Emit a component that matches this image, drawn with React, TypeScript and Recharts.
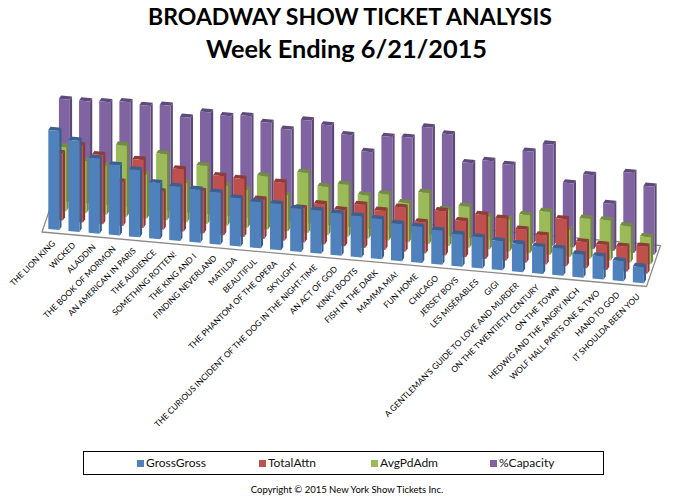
import React from 'react';
import { BarChart, Bar, XAxis, YAxis, Legend, Customized } from 'recharts';

const shows = [
  'THE LION KING', 'WICKED', 'ALADDIN', 'THE BOOK OF MORMON', 'AN AMERICAN IN PARIS', 'THE AUDIENCE',
  'SOMETHING ROTTEN!', 'THE KING AND I', 'FINDING NEVERLAND', 'MATILDA', 'BEAUTIFUL', 'THE PHANTOM OF THE OPERA',
  'SKYLIGHT', 'THE CURIOUS INCIDENT OF THE DOG IN THE NIGHT-TIME', 'AN ACT OF GOD', 'KINKY BOOTS', 'FISH IN THE DARK',
  'MAMMA MIA!', 'FUN HOME', 'CHICAGO', 'JERSEY BOYS', 'LES MISÉRABLES', 'GIGI',
  "A GENTLEMAN'S GUIDE TO LOVE AND MURDER", 'ON THE TWENTIETH CENTURY', 'ON THE TOWN', 'HEDWIG AND THE ANGRY INCH',
  'WOLF HALL PARTS ONE & TWO', 'HAND TO GOD', 'IT SHOULDA BEEN YOU',
];

// index scores
const grossGross = [99, 91, 75, 70, 67, 56, 54, 53, 52, 48, 46, 46, 43, 43, 42, 41, 40, 37, 36, 34, 32, 31, 29, 28, 27, 27, 23, 23, 20, 16];
const totalAttn = [67, 77, 69, 44, 68, 38, 62, 42, 59, 58, 39, 58, 34, 40, 36, 43, 39, 44, 31, 44, 36, 44, 42, 33, 29, 47, 26, 25, 25, 27];
const avgPdAdm = [64, 52, 49, 71, 44, 66, 39, 58, 40, 38, 53, 36, 60, 48, 52, 43, 46, 39, 51, 36, 41, 33, 32, 38, 43, 27, 40, 40, 36, 27];
const capacity = [102, 102, 103, 105, 103, 105, 95, 102, 100, 102, 97, 92, 103, 100, 92, 77, 94, 95, 107, 102, 75, 79, 77, 92, 101, 64, 74, 47, 80, 68];

const chartData = shows.map((name, i) => ({
  name,
  GrossGross: grossGross[i],
  TotalAttn: totalAttn[i],
  AvgPdAdm: avgPdAdm[i],
  Capacity: capacity[i],
}));

const legendItems = [
  { label: 'GrossGross', color: '#4F81BD', left: 53 },
  { label: 'TotalAttn', color: '#C0504D', left: 175 },
  { label: 'AvgPdAdm', color: '#9BBB59', left: 287 },
  { label: '%Capacity', color: '#8064A2', left: 406 },
];

const FONT = 'Lato, sans-serif';
const SLOPE = 0.0908; // the floor runs downhill to the right
const FIRST_BAR_X = 47.7;
const DEPTH_X = 3.53;
const DEPTH_Y = 9.45;

const makeBar3D = (depth: number, side: string, cap: string) => (props: any) => {
  const { x, y, width, height, fill } = props;
  const x0 = x + depth * DEPTH_X;
  const shift = SLOPE * (x - FIRST_BAR_X) - depth * DEPTH_Y;
  const top = y + shift;
  const bottom = y + height + shift;
  const r = width * SLOPE;
  const dx = 2.2;
  const dy = 3.3;
  return (
    <g>
      <polygon points={`${x0 + width},${top + r} ${x0 + width + dx},${top + r - dy} ${x0 + width + dx},${bottom + r - dy} ${x0 + width},${bottom + r}`} fill={side} />
      <polygon points={`${x0},${top} ${x0 + dx},${top - dy} ${x0 + width + dx},${top + r - dy} ${x0 + width},${top + r}`} fill={cap} />
      <polygon points={`${x0},${top} ${x0 + width},${top + r} ${x0 + width},${bottom + r} ${x0},${bottom}`} fill={fill} />
    </g>
  );
};

const ShowTick = (props: any) => {
  const { x, y, payload } = props;
  const ty = y + SLOPE * (x - 53) + 7;
  return (
    <text
      transform={`translate(${x + 2.5},${ty}) rotate(-45)`}
      textAnchor="end"
      fontFamily={FONT}
      fontSize={8.3}
      fill="#000"
    >
      {payload.value}
    </text>
  );
};

const Floor = () => (
  <polygon points="42,232 646.5,286.5 660.5,245.5 56,191" fill="#fff" stroke="#8c8c8c" strokeWidth={1.3} />
);

const ChartLegend = () => (
  <div style={{ position: 'relative', width: 521, height: 24, border: '1.5px solid #000', boxSizing: 'border-box', fontFamily: FONT }}>
    {legendItems.map((item) => (
      <div key={item.label} style={{ position: 'absolute', left: item.left, top: 3, display: 'flex', alignItems: 'center', fontSize: 12, lineHeight: '16px', color: '#111' }}>
        <span style={{ width: 7, height: 7, background: item.color, marginRight: 2 }} />
        {item.label}
      </div>
    ))}
  </div>
);

export default function App() {
  return (
    <div style={{ position: 'absolute', left: 0, top: 0, width: 680, height: 501, background: '#fff', overflow: 'hidden' }}>
      <div style={{ position: 'absolute', left: 0, width: 700, top: 0, textAlign: 'center', fontFamily: FONT, fontWeight: 700, fontSize: 23, lineHeight: '32px', color: '#000' }}>
        BROADWAY SHOW TICKET ANALYSIS
      </div>
      <div style={{ position: 'absolute', left: 0, width: 693, top: 32, textAlign: 'center', fontFamily: FONT, fontWeight: 700, fontSize: 25.3, lineHeight: '32px', color: '#000' }}>
        Week Ending 6/21/2015
      </div>
      <div style={{ position: 'absolute', left: 0, width: 694, top: 483, textAlign: 'center', fontFamily: FONT, fontSize: 9.5, lineHeight: '14px', color: '#000' }}>
        Copyright © 2015 New York Show Tickets Inc.
      </div>
      <BarChart
        width={680}
        height={501}
        data={chartData}
        barSize={11}
        barGap={-11}
        margin={{ top: 109, right: 32, left: 43.3, bottom: 0 }}
      >
        <Customized component={Floor} />
        <XAxis dataKey="name" interval={0} height={272} axisLine={false} tickLine={false} tick={<ShowTick />} />
        <YAxis hide domain={[0, 120]} />
        <Bar dataKey="Capacity" fill="#8064A2" shape={makeBar3D(3, '#5C4776', '#5E4A7A')} isAnimationActive={false} />
        <Bar dataKey="AvgPdAdm" fill="#9BBB59" shape={makeBar3D(2, '#71893F', '#738B42')} isAnimationActive={false} />
        <Bar dataKey="TotalAttn" fill="#C0504D" shape={makeBar3D(1, '#8C3836', '#8F3B38')} isAnimationActive={false} />
        <Bar dataKey="GrossGross" fill="#4F81BD" shape={makeBar3D(0, '#385D8A', '#3A6090')} isAnimationActive={false} />
        <Legend
          verticalAlign="middle"
          content={<ChartLegend />}
          wrapperStyle={{ left: 83, top: 451, width: 521, height: 24 }}
        />
      </BarChart>
    </div>
  );
}
